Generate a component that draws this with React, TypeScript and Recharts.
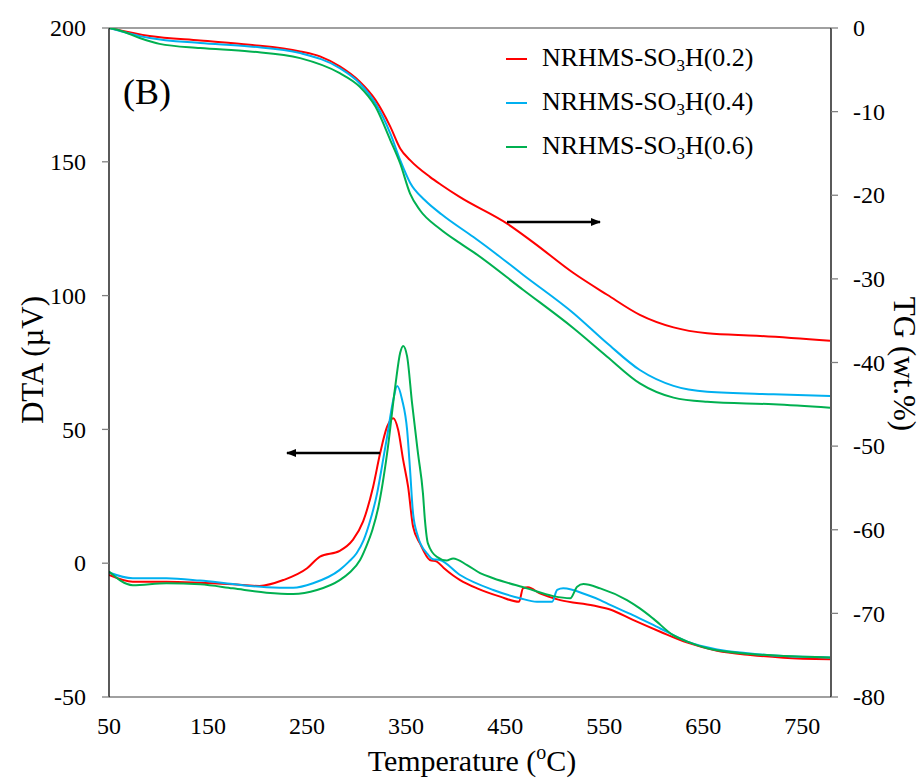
import React from 'react';
import { LineChart, Line, XAxis, YAxis, Legend, ReferenceLine, Label } from 'recharts';

// ---- Data ----
const seriesNames = ['NRHMS-SO3H(0.2)', 'NRHMS-SO3H(0.4)', 'NRHMS-SO3H(0.6)'];
const seriesLabels = ['0.2', '0.4', '0.6'];
const seriesColors = ['#FF0000', '#00B0F0', '#00B050'];

const xTicks = [50, 150, 250, 350, 450, 550, 650, 750];
const dtaTicks = [-50, 0, 50, 100, 150, 200];
const tgTicks = [-80, -70, -60, -50, -40, -30, -20, -10, 0];

// TG curves (wt.%) - right axis
const tgT02 = [50, 91, 142, 192, 243, 263, 283, 303, 319, 334, 344, 354, 374, 386, 404, 452, 478, 519, 553, 586, 620, 654, 704, 778];
const tgV02 = [0, -0.96, -1.5, -2.0, -2.8, -3.4, -4.6, -6.4, -8.6, -11.8, -14.4, -15.8, -17.8, -18.8, -20.2, -23.4, -25.6, -29.3, -31.9, -34.3, -35.8, -36.5, -36.8, -37.4];

const tgT04 = [50, 91, 142, 192, 243, 283, 303, 319, 334, 344, 354, 369, 386, 418, 443, 468, 519, 553, 586, 620, 654, 721, 778];
const tgV04 = [0, -1.2, -1.8, -2.2, -3.0, -4.8, -6.6, -9.0, -12.6, -15.8, -18.5, -20.6, -22.3, -25.0, -27.2, -29.5, -34.1, -37.7, -40.9, -42.8, -43.5, -43.8, -44.0];

const tgT06 = [50, 61, 81, 101, 142, 192, 243, 283, 303, 319, 334, 344, 354, 364, 384, 404, 418, 468, 519, 553, 586, 620, 654, 721, 778];
const tgV06 = [0, -0.3, -1.2, -1.9, -2.4, -2.8, -3.6, -5.4, -7.0, -9.4, -13.4, -16.2, -19.8, -21.8, -24.0, -25.7, -26.8, -31.3, -35.9, -39.3, -42.5, -44.2, -44.7, -45.0, -45.4];

// DTA curves (µV) - left axis
const dtaT02 = [50, 74, 108, 142, 175, 202, 226, 250, 263, 283, 296, 306.6, 316.7, 323.7, 330.8, 337, 342, 347, 352, 357, 364, 374, 381, 388, 397.5, 404.5, 421.7, 445, 464, 468, 473, 485, 505.6, 539, 556, 579, 606.6, 634, 664, 697.5, 731, 778];
const dtaV02 = [-4.4, -6.9, -6.9, -7.3, -7.9, -8.5, -6.3, -1.9, 2.5, 4.6, 8.6, 15.6, 28.6, 41, 51, 54.2, 49.8, 38.6, 28.6, 13.7, 7.4, 1.2, 0.6, -1.8, -4.6, -6.3, -9.4, -12.5, -14.4, -9.4, -9.0, -11.3, -13.8, -15.8, -17.3, -21.2, -25.6, -29.7, -32.7, -34.3, -35.3, -35.9];

const dtaT04 = [50, 74, 108, 142, 175, 209, 236, 256, 283, 292, 300, 307, 313, 320.7, 326, 330.8, 337, 341, 346, 351, 354, 357, 362, 371, 377, 384, 404.5, 438, 465, 482, 497.5, 502.5, 508.6, 533, 546, 556, 579, 606.6, 634, 664, 697.5, 731, 778];
const dtaV04 = [-3.5, -5.6, -5.6, -6.5, -7.8, -9.0, -9.2, -7.5, -2.5, 0.5, 3.7, 8.5, 15, 26.1, 37, 47.3, 61, 66.2, 61, 49.8, 34.8, 18.6, 9.9, 3.7, 1.5, 1.2, -4.4, -10.0, -13.1, -14.4, -14.4, -10.0, -9.4, -11.9, -13.8, -15.6, -19.4, -24.4, -29.3, -32.2, -33.7, -34.7, -35.2];

const dtaT06 = [50, 74, 108, 142, 175, 209, 236, 260, 283, 293, 303.5, 310, 316, 322, 330.8, 339, 344, 347, 351, 356, 362, 367, 369, 372, 381, 391, 397.5, 411.6, 424.7, 438, 472, 498.5, 515.7, 522.7, 529, 546, 573, 586, 599.5, 620, 634, 654, 697.5, 731, 778];
const dtaV06 = [-3.1, -8.2, -7.5, -7.9, -9.4, -11.0, -11.5, -10.0, -6.3, -3.5, 1.2, 6.5, 12.5, 21, 41, 66, 78.6, 81.2, 77.3, 59.8, 41, 26.1, 16.1, 7.4, 2.4, 1.0, 1.8, -0.7, -3.7, -5.6, -9.4, -12.3, -13.1, -8.8, -7.8, -9.4, -13.8, -16.9, -20.7, -27, -29.3, -31.8, -33.9, -34.7, -35.2];

const zip = (t: number[], v: number[]) => t.map((x, i) => ({ t: x, v: v[i] }));

const tgData = [zip(tgT02, tgV02), zip(tgT04, tgV04), zip(tgT06, tgV06)];
const dtaData = [zip(dtaT02, dtaV02), zip(dtaT04, dtaV04), zip(dtaT06, dtaV06)];

const FONT = '"Liberation Serif", "Times New Roman", serif';

const makeTick = (dy: string) => (props: any) => {
  const { x, y, payload, textAnchor } = props;
  return (
    <text x={x} y={y} dy={dy} textAnchor={textAnchor} fontFamily={FONT} fontSize={24} fill="#000">
      {payload.value}
    </text>
  );
};
const XTick = makeTick('0.71em');
const YTick = makeTick('0.34em');

const LegendContent = (props: any) => {
  const payload = (props.payload || []).filter((p: any) => p.type !== 'none');
  return (
    <div style={{ fontFamily: FONT, fontSize: 26, color: '#000' }}>
      {payload.map((p: any, i: number) => (
        <div key={i} style={{ display: 'flex', alignItems: 'center', height: 44 }}>
          <div style={{ width: 21, height: 2, background: p.color, marginRight: 15 }} />
          <span style={{ whiteSpace: 'nowrap' }}>
            NRHMS-SO<sub style={{ fontSize: 17, verticalAlign: -5 }}>3</sub>H({seriesLabels[i]})
          </span>
        </div>
      ))}
    </div>
  );
};

const XTitle = (props: any) => {
  const vb = props.viewBox || { x: 109, y: 697, width: 722, height: 40 };
  const cx = vb.x + vb.width / 2 + 2;
  return (
    <text x={cx} y={vb.y + 74} textAnchor="middle" fontFamily={FONT} fontSize={30} fill="#000">
      Temperature (<tspan fontSize={20} dy={-12}>o</tspan><tspan dy={12}>C)</tspan>
    </text>
  );
};

const LeftTitle = () => {
  const cx = 43;
  const cy = 360;
  return (
    <text x={cx} y={cy} transform={`rotate(-90 ${cx} ${cy})`} textAnchor="middle" fontFamily={FONT} fontSize={31} fill="#000">
      DTA (µV)
    </text>
  );
};

const RightTitle = () => {
  const cx = 894;
  const cy = 364;
  return (
    <text x={cx} y={cy} transform={`rotate(90 ${cx} ${cy})`} textAnchor="middle" fontFamily={FONT} fontSize={31} fill="#000">
      TG (wt.%)
    </text>
  );
};

export default function App() {
  return (
    <div style={{ position: 'absolute', left: 0, top: 0, width: 923, height: 778, background: '#fff', fontFamily: FONT }}>
      <LineChart width={923} height={778} margin={{ top: 28, right: 32, bottom: 41, left: 49 }}>
        <XAxis
          type="number"
          dataKey="t"
          domain={[50, 779]}
          ticks={xTicks}
          interval={0}
          allowDataOverflow
          tickLine={false}
          axisLine={{ stroke: '#808080', strokeWidth: 1.3 }}
          tick={<XTick />}
          tickMargin={20}
          tickSize={0}
          height={40}
        >
          <Label content={<XTitle />} />
        </XAxis>
        <YAxis
          yAxisId="dta"
          orientation="left"
          type="number"
          domain={[-50, 200]}
          ticks={dtaTicks}
          interval={0}
          allowDataOverflow
          width={60}
          tick={<YTick />}
          tickLine={{ stroke: '#808080', strokeWidth: 1.3 }}
          axisLine={{ stroke: '#000', strokeWidth: 1.3 }}
          tickSize={7}
          tickMargin={16}
        >
          <Label content={<LeftTitle />} />
        </YAxis>
        <YAxis
          yAxisId="tg"
          orientation="right"
          type="number"
          domain={[-80, 0]}
          ticks={tgTicks}
          interval={0}
          allowDataOverflow
          width={60}
          tick={<YTick />}
          tickLine={{ stroke: '#808080', strokeWidth: 1.3 }}
          axisLine={{ stroke: '#000', strokeWidth: 1.3 }}
          tickSize={7}
          tickMargin={15}
        >
          <Label content={<RightTitle />} />
        </YAxis>
        <ReferenceLine yAxisId="dta" y={200} stroke="#808080" strokeWidth={1.3} />
        {dtaData.map((d, i) => (
          <Line
            key={'dta' + i}
            yAxisId="dta"
            data={d}
            dataKey="v"
            type="monotone"
            stroke={seriesColors[i]}
            strokeWidth={2}
            dot={false}
            legendType="none"
            isAnimationActive={false}
          />
        ))}
        {tgData.map((d, i) => (
          <Line
            key={'tg' + i}
            yAxisId="tg"
            data={d}
            dataKey="v"
            name={seriesNames[i]}
            type="monotone"
            stroke={seriesColors[i]}
            strokeWidth={2}
            dot={false}
            isAnimationActive={false}
          />
        ))}
        <Legend
          layout="vertical"
          align="center"
          verticalAlign="middle"
          content={<LegendContent />}
          wrapperStyle={{ position: 'absolute', left: 506, top: 37, width: 320 }}
        />
      </LineChart>
      <svg width={923} height={778} style={{ position: 'absolute', left: 0, top: 0, pointerEvents: 'none' }}>
        <defs>
          <marker id="ah" markerWidth="10" markerHeight="8" refX="9" refY="4" orient="auto" markerUnits="userSpaceOnUse">
            <path d="M0,0 L10,4 L0,8 Z" fill="#000" />
          </marker>
        </defs>
        <text x={123} y={104} fontFamily={FONT} fontSize={36} fill="#000">(B)</text>
        <line x1={507} y1={222} x2={600} y2={222} stroke="#000" strokeWidth={2.5} markerEnd="url(#ah)" />
        <line x1={380} y1={453} x2={287} y2={453} stroke="#000" strokeWidth={2.5} markerEnd="url(#ah)" />
      </svg>
    </div>
  );
}
